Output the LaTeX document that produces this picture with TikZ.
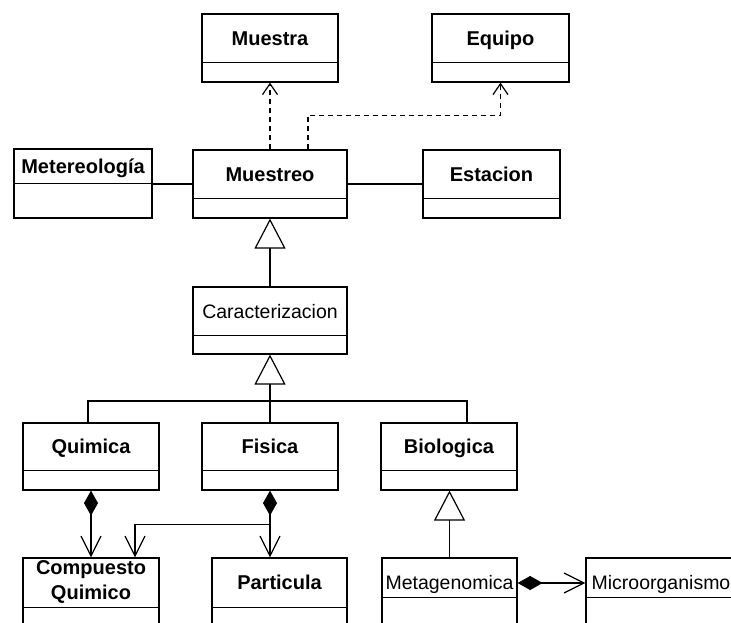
\documentclass[tikz,border=0pt]{standalone}
\usepackage{fontspec}
\setmainfont{Liberation Sans}
\usetikzlibrary{arrows.meta}

\begin{document}
\begin{tikzpicture}[x=1pt, y=-1pt, line width=1.2pt,
  clase/.style={draw, inner sep=0pt},
  nombre/.style={inner sep=0pt, text height=14.5pt, text depth=0pt, font=\fontsize{20}{25}\selectfont\bfseries},
  nombreR/.style={inner sep=0pt, text height=14.5pt, text depth=0pt, font=\fontsize{19.5}{25}\selectfont},
  nombreD/.style={inner sep=0pt, align=center, font=\fontsize{20}{25}\selectfont\bfseries},
  dep/.style={dash pattern=on 5pt off 4pt, -{Straight Barb[length=11pt, width=15pt]}},
  gen/.style={-{Triangle[open, length=30pt, width=31pt]}},
  comp/.style={{Diamond[length=25pt, width=14pt]}-{Straight Barb[length=20pt, width=20pt]}},
  flecha/.style={-{Straight Barb[length=20pt, width=20pt]}}]
\clip (0,0) rectangle (731,623);

% clases
\node[clase, minimum width=136, minimum height=68] (muestra) at (270,48) {};
\node[clase, minimum width=137, minimum height=68] (equipo) at (500.5,48) {};
\node[clase, minimum width=154, minimum height=68] (muestreo) at (270,184) {};
\node[clase, minimum width=137, minimum height=68] (estacion) at (491.5,184) {};
\node[clase, minimum width=138, minimum height=69] (meteo) at (83,183.5) {};
\node[clase, minimum width=154, minimum height=67] (caract) at (270,320.5) {};
\node[clase, minimum width=136, minimum height=67] (quimica) at (91,456.5) {};
\node[clase, minimum width=136, minimum height=67] (fisica) at (270,456.5) {};
\node[clase, minimum width=136, minimum height=67] (biologica) at (449,456.5) {};
\node[clase, minimum width=136, minimum height=69] (compuesto) at (91,592.5) {};
\node[clase, minimum width=135, minimum height=69] (particula) at (279.5,592.5) {};
\node[clase, minimum width=135, minimum height=70] (metagen) at (449.5,593) {};
\node[clase, minimum width=150, minimum height=70] (micro) at (661,593) {};

\foreach \n/\h/\s/\t in {muestra/49/nombre/Muestra, equipo/49/nombre/Equipo,
    muestreo/49/nombre/Muestreo, estacion/49/nombre/Estacion,
    meteo/35/nombre/Metereología, caract/49/nombreR/Caracterizacion,
    quimica/48/nombre/Quimica, fisica/48/nombre/Fisica, biologica/48/nombre/Biologica,
    compuesto/50/nombreD/{Compuesto\\Quimico}, particula/50/nombre/Particula,
    metagen/50/nombreR/Metagenomica, micro/50/nombreR/Microorganismo}{
  \node[\s] (\n t) at ([yshift=-\h/2]\n.north) {\t};
}
\foreach \n/\h in {muestra/49, equipo/49, muestreo/49, estacion/49, meteo/35, caract/49,
    quimica/48, fisica/48, biologica/48, compuesto/50, particula/50, metagen/40, micro/40}
  \draw ([yshift=-\h]\n.north west) -- ([yshift=-\h]\n.north east);

% relaciones
\draw[dep] (muestreo.north) -- (muestra.south);
\draw[dep] ([xshift=38]muestreo.north) -- ++(0,-34) -| (equipo.south);
\draw (muestreo.west) -- (muestreo.west -| meteo.east);
\draw (muestreo.east) -- (estacion.west);
\draw[gen] (caract.north) -- (muestreo.south);

\coordinate (bus) at (270,401);
\draw[gen] (fisica.north) -- (caract.south);
\draw ([xshift=-3]quimica.north) |- (bus) -| ([xshift=18]biologica.north);
\draw[gen] (metagen.north) -- (metagen.north |- biologica.south);

\draw[comp] (quimica.south) -- (quimica.south |- compuesto.north);
\draw[comp] (fisica.south) -- (fisica.south |- particula.north);
\coordinate (rama) at ([yshift=-34]fisica.south);
\draw[flecha] (rama) -| ([xshift=44]compuesto.north);
\draw[comp] ([yshift=10]metagen.east) -- ([yshift=10]micro.west);
\end{tikzpicture}
\end{document}
